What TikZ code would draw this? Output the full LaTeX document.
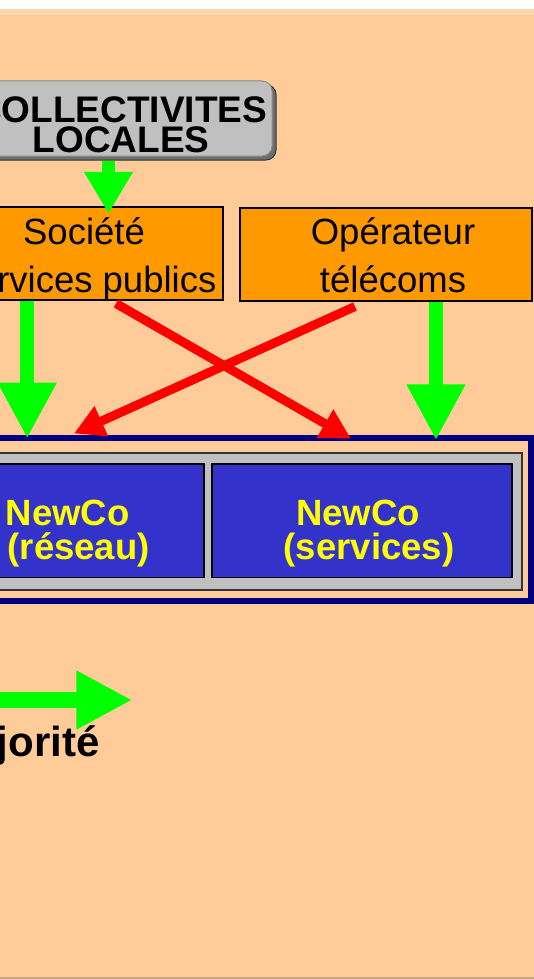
\documentclass[tikz,border=0pt]{standalone}
\usepackage{fontspec}
\setmainfont{Liberation Sans}
\usetikzlibrary{arrows.meta}
\definecolor{cpeach}{HTML}{FFCC99}
\definecolor{cpeachlt}{HTML}{FFD6AA}
\definecolor{ctan}{HTML}{C8A67C}
\definecolor{corange}{HTML}{FF9900}
\definecolor{cgreen}{HTML}{00FF00}
\definecolor{cred}{HTML}{FF0000}
\definecolor{cblue}{HTML}{3333CC}
\definecolor{cnavy}{HTML}{000080}
\definecolor{csilver}{HTML}{C0C0C0}
\definecolor{cshadow}{HTML}{6E6E6E}
\definecolor{cyellow}{HTML}{FFFF00}
\begin{document}
\begin{tikzpicture}[x=1pt,y=-1pt,
  orangebox/.style={draw=black, line width=2pt, fill=corange, inner sep=0pt, minimum width=#1, minimum height=93pt},
  bluebox/.style={draw=black, line width=1.8pt, fill=cblue, inner sep=0pt, minimum height=113.5pt, minimum width=#1},
  normtxt/.style={anchor=base, inner sep=0pt, font=\fontsize{36.5pt}{40pt}\selectfont},
  boldtxt/.style={anchor=base, inner sep=0pt, font=\fontsize{36.5pt}{40pt}\selectfont\bfseries},
  newcotxt/.style={boldtxt, text=cyellow},
  greenbig/.style={draw=cgreen, line width=14pt, -{Triangle[width=55pt,length=56pt]}},
  greensmall/.style={draw=cgreen, line width=13pt, -{Triangle[width=46pt,length=42pt]}},
  redarrow/.style={draw=cred, line width=9pt, -{Triangle[width=31pt,length=30pt]}}
]
\useasboundingbox (0,0) rectangle (534,979);
\clip (0,0) rectangle (534,979);
% background
\fill[white] (0,0) rectangle (534,979);
\fill[cpeach] (0,9) rectangle (534,979);
\fill[cpeachlt] (0,9) rectangle (534,15);
\fill[ctan] (0,976.8) rectangle (534,979);

% COLLECTIVITES LOCALES
\node[draw=black!80, line width=1pt, fill=cshadow, rounded corners=10pt, inner sep=0pt,
      minimum width=312pt, minimum height=75.5pt] (colsh) at (120,122.25) {};
\node[draw=black!45, line width=1pt, fill=csilver, rounded corners=10pt, inner sep=0pt,
      minimum width=312pt, minimum height=75pt] (col) at (116,118.5) {};
\node[boldtxt, font=\fontsize{37pt}{40pt}\selectfont\bfseries] (colt1) at (121,122) {COLLECTIVITES};
\node[boldtxt, font=\fontsize{37pt}{40pt}\selectfont\bfseries] (colt2) at (121,153) {LOCALES};

% orange boxes
\node[orangebox=293pt] (soc) at (76.5,253.5) {};
\node[orangebox=292pt] (op) at (385.5,254) {};
\node[normtxt] (soct1) at (84,244.5) {Société};
\node[normtxt] (soct2) at (84.5,292) {Services publics};
\node[normtxt] (opt1) at (393,244.5) {Opérateur};
\node[normtxt] (opt2) at (393,292) {télécoms};

% NewCo frame
\draw[cnavy, line width=5.7pt] (-20,438) rectangle (531.2,600.8);
\node[draw=black!80, line width=1.6pt, fill=csilver, inner sep=0pt, anchor=north east,
      minimum width=560pt, minimum height=137pt] (grp) at (522.5,452) {};
\node[bluebox=284pt] (res) at (62,520.75) {};
\node[bluebox=300.6pt] (ser) at (362,520.75) {};
\node[newcotxt] (rest1) at (67.7,525.6) {NewCo};
\node[newcotxt] (rest2) at (78.7,559.6) {(réseau)};
\node[newcotxt] (sert1) at (358,525.6) {NewCo};
\node[newcotxt] (sert2) at (369,559.6) {(services)};

% arrows
\coordinate (t1) at (108.5,213.8);
\coordinate (t2) at (27.2,438.6);
\coordinate (t3) at (436,440.3);
\draw[greensmall] (colsh.south -| t1) -- (t1);
\draw[greenbig] (soc.south -| t2) -- (t2);
\draw[greenbig] (op.south -| t3) -- (t3);
\coordinate (r1s) at (116,303.5);
\coordinate (r1e) at (351,438.6);
\coordinate (r2s) at (355,306.5);
\coordinate (r2e) at (74,433.5);
\draw[redarrow] (r1s) -- (r1e);
\draw[redarrow] (r2s) -- (r2e);

% legend
\coordinate (ls) at (-10,700);
\coordinate (le) at (132.3,700);
\draw[greenbig, line width=15.5pt] (ls) -- (le);
\node[anchor=base east, inner sep=0pt, font=\fontsize{42pt}{46pt}\selectfont\bfseries] (leg) at (99.8,756.7) {majorité};
\end{tikzpicture}
\end{document}
